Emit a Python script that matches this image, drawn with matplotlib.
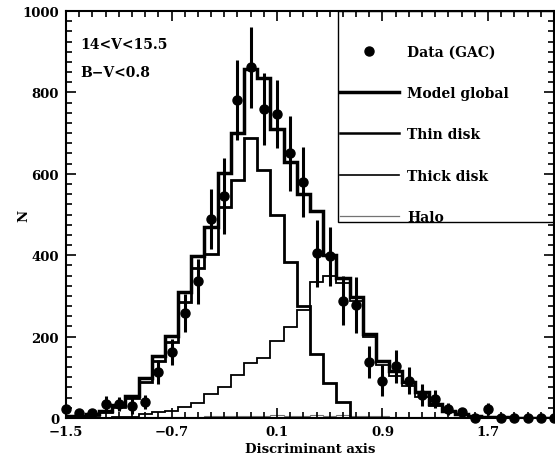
import matplotlib
matplotlib.use("Agg")
import matplotlib.pyplot as plt
from matplotlib.lines import Line2D
from matplotlib.patches import Rectangle
from matplotlib.ticker import MultipleLocator
import numpy as np

# bin centres of the discriminant axis (width 0.1)
bin_centers = np.round(np.linspace(-1.5, 2.2, 38), 2)
bin_width = 0.1
x_ticks = [-1.5, -0.7, 0.1, 0.9, 1.7]

data_n = [22, 12, 12, 35, 34, 30, 39, 113, 162, 258, 336, 489, 545, 781, 862, 759,
          747, 651, 580, 405, 397, 288, 278, 138, 92, 127, 92, 57, 47, 22, 14, 0,
          22, 0, 0, 0, 0, 0]
data_err = [10, 8, 8, 18, 18, 20, 18, 30, 32, 47, 55, 73, 93, 98, 100, 88,
            83, 92, 85, 82, 72, 60, 68, 40, 37, 40, 34, 27, 22, 15, 10, 0,
            15, 0, 0, 0, 0, 0]

model_global = [5, 5, 10, 18, 32, 55, 98, 153, 201, 309, 398, 469, 601, 700, 858, 836,
                711, 628, 550, 508, 400, 345, 298, 206, 140, 115, 88, 64, 34, 17, 10, 4,
                2, 2, 1, 1, 1, 1]
thin_disk = [3, 3, 8, 15, 28, 48, 88, 140, 186, 285, 368, 402, 518, 585, 688, 610,
             499, 383, 276, 157, 85, 40, 0, 0, 0, 0, 0, 0, 0, 0, 0, 0,
             0, 0, 0, 0, 0, 0]
thick_disk = [0, 0, 1, 1, 2, 3, 10, 14, 16, 28, 37, 60, 75, 105, 135, 147,
              190, 223, 265, 334, 350, 332, 287, 199, 129, 104, 79, 52, 30, 15, 8, 3,
              2, 1, 1, 0, 0, 0]
halo = [0, 0, 0, 0, 1, 1, 2, 2, 2, 3, 3, 4, 4, 5, 5, 6,
        8, 6, 5, 8, 6, 8, 5, 4, 4, 3, 3, 2, 2, 1, 1, 1,
        0, 0, 0, 0, 0, 0]

font = {"family": "DejaVu Serif", "weight": "bold"}

fig = plt.figure(figsize=(5.55, 4.64), dpi=100)
ax = fig.add_axes([0.119, 0.097, 0.879, 0.877])

edges = np.append(bin_centers - bin_width / 2, bin_centers[-1] + bin_width / 2)
ax.stairs(halo, edges, color="0.45", linewidth=0.8)
ax.stairs(thick_disk, edges, color="black", linewidth=1.3)
ax.stairs(thin_disk, edges, color="black", linewidth=2.0)
ax.stairs(model_global, edges, color="black", linewidth=2.5)

ax.errorbar(bin_centers, data_n, yerr=data_err, fmt="o", color="black",
            markersize=6.5, elinewidth=2.2, capsize=0, clip_on=False, zorder=5)

ax.set_xlim(-1.5, 2.2)
ax.set_ylim(0, 1000)
ax.set_xticks(x_ticks)
ax.xaxis.set_minor_locator(MultipleLocator(0.1))
ax.yaxis.set_major_locator(MultipleLocator(200))
ax.yaxis.set_minor_locator(MultipleLocator(25))
ax.tick_params(which="both", direction="in", top=True, right=True, width=1.2)
ax.tick_params(which="major", length=7, labelsize=9.5, pad=5)
ax.tick_params(which="minor", length=4)
for lab in ax.get_xticklabels() + ax.get_yticklabels():
    lab.set_fontfamily("DejaVu Serif")
    lab.set_fontweight("bold")
for sp in ax.spines.values():
    sp.set_linewidth(1.5)

ax.set_xlabel("Discriminant axis", fontdict=font, fontsize=9.5, labelpad=3)
ax.set_ylabel("N", fontdict=font, fontsize=9.5)
ax.yaxis.set_label_coords(-0.074, 0.5)

ax.text(0.03, 0.91, "14<V<15.5", transform=ax.transAxes, fontdict=font, fontsize=10)
ax.text(0.03, 0.84, "B\u2212V<0.8", transform=ax.transAxes, fontdict=font, fontsize=10)

# legend box
ax.add_patch(Rectangle((0.558, 0.482), 0.442, 0.518, transform=ax.transAxes,
                       fill=False, edgecolor="black", linewidth=1.0, zorder=6))
handles = [
    Line2D([], [], marker="o", linestyle="none", color="black", markersize=6.5),
    Line2D([], [], color="black", linewidth=2.5),
    Line2D([], [], color="black", linewidth=1.8),
    Line2D([], [], color="black", linewidth=1.2),
    Line2D([], [], color="0.45", linewidth=0.9),
]
labels = ["Data (GAC)", "Model global", "Thin disk", "Thick disk", "Halo"]
ax.legend(handles, labels, loc="upper left", bbox_to_anchor=(0.562, 0.918),
          frameon=False, handlelength=4.2, handletextpad=0.6, labelspacing=1.97,
          borderaxespad=0, borderpad=0, prop={"family": "DejaVu Serif", "weight": "bold", "size": 10})

fig.savefig("out.png", dpi=100)
